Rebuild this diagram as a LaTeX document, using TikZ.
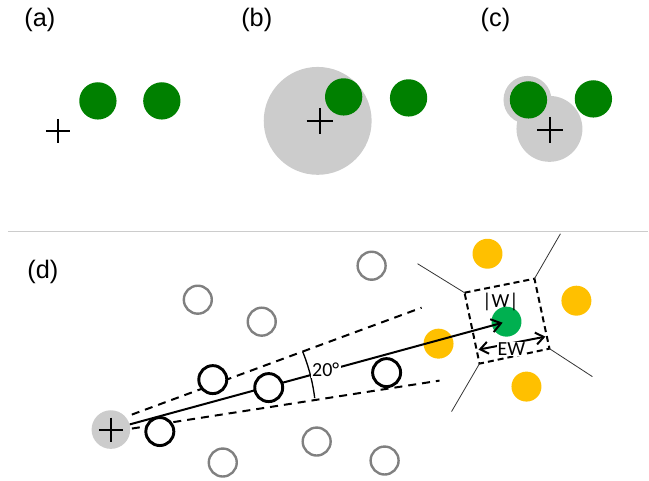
\documentclass[tikz,border=0pt]{standalone}
\usepackage{fontspec}
\setmainfont{Liberation Sans}
\newfontfamily\calfont{Carlito}
\usetikzlibrary{arrows.meta}
\definecolor{darkgreen}{RGB}{0,128,0}
\definecolor{brightgreen}{RGB}{0,176,80}
\definecolor{amber}{RGB}{255,192,0}
\definecolor{lightgrey}{RGB}{204,204,204}
\definecolor{midgrey}{RGB}{128,128,128}
\tikzset{
  panellabel/.style={anchor=center,inner sep=0.75pt,font=\fontsize{19}{22}\selectfont},
  greendot/.style={circle,fill=darkgreen,inner sep=0pt,minimum size=28pt},
  halo/.style={circle,fill=lightgrey,inner sep=0pt},
  plusline/.style={line width=1.5pt},
  hitcircle/.style={circle,draw=black,line width=2.2pt,fill=white,inner sep=0pt,minimum size=21pt},
  misscircle/.style={circle,draw=midgrey,line width=1.8pt,inner sep=0pt,minimum size=21pt},
  neighbour/.style={circle,fill=amber,inner sep=0pt,minimum size=22.5pt},
  smalltext/.style={inner sep=1pt,font=\calfont\fontsize{15}{17}\selectfont},
}
\begin{document}
\begin{tikzpicture}[x=0.75pt,y=0.75pt,yscale=-1,xscale=1]
\path (0,0) rectangle (649,481);
%Panel labels
\node [panellabel] (lbla) at (40,20) {(a)};
\node [panellabel] (lblb) at (257,20) {(b)};
\node [panellabel] (lblc) at (496,20) {(c)};
\node [panellabel] (lbld) at (43,272) {(d)};
%Panel (a)
\node [greendot] (ga1) at (98,101) {};
\node [greendot] (ga2) at (162,101) {};
\draw [plusline] (46,131) -- (70,131) (58,119) -- (58,143);
%Panel (b)
\node [halo,minimum size=81pt] (hb) at (318,121) {};
\node [greendot] (gb1) at (344,97) {};
\node [greendot] (gb2) at (409,98) {};
\draw [plusline] (307,121) -- (333,121) (320,108) -- (320,134);
%Panel (c)
\node [halo,minimum size=36pt] (hc1) at (528,100) {};
\node [halo,minimum size=49.5pt] (hc2) at (550,129) {};
\node [greendot] (gc1) at (529,100) {};
\node [greendot] (gc2) at (594,99) {};
\draw [plusline] (538,130) -- (564,130) (551,117) -- (551,143);
%Separator
\draw [color=lightgrey,line width=1pt] (8,232) -- (649,232);
%Panel (d): candidate circles
\node [misscircle] (m1) at (198,300) {};
\node [misscircle] (m2) at (262,322) {};
\node [misscircle] (m3) at (372,266) {};
\node [misscircle] (m4) at (223,463) {};
\node [misscircle] (m5) at (317,442) {};
\node [misscircle] (m6) at (385,461) {};
\node [neighbour] (y1) at (488,254) {};
\node [neighbour] (y2) at (577,301) {};
\node [neighbour] (y3) at (439,344) {};
\node [neighbour] (y4) at (527,387) {};
\node [circle,fill=brightgreen,inner sep=0pt,minimum size=22.5pt] (tgt) at (507,322) {};
\node [halo,minimum size=29pt] (src) at (111,430) {};
\draw [plusline] (99,430) -- (123,430) (111,418) -- (111,442);
%Cone
\coordinate (upA) at (132,415);
\coordinate (upB) at (422,308);
\coordinate (loA) at (132,429);
\coordinate (loB) at (440,381);
\draw [line width=1.5pt,dash pattern={on 6pt off 4.5pt}] (upA) -- (upB);
\draw [line width=1.5pt,dash pattern={on 6pt off 4.5pt}] (loA) -- (loB);
\draw [line width=1.5pt,-{Straight Barb[length=7pt,width=10pt]},shorten >=3pt] (src) -- (tgt.center);
\draw [line width=1pt] (303,352) arc[start angle=-22,end angle=-7,radius=184];
\node [smalltext,fill=white] (ang) at (326,370) {20°};
%Hit circles
\node [hitcircle] (h1) at (160,432) {};
\node [hitcircle] (h2) at (213,380) {};
\node [hitcircle] (h3) at (269,388) {};
\node [hitcircle] (h4) at (387,373) {};
%Cell box
\coordinate (cA) at (465,293);
\coordinate (cB) at (535,279);
\coordinate (cC) at (550,349);
\coordinate (cD) at (480,364);
\draw [line width=1.5pt,dash pattern={on 4.5pt off 3pt}] (cA) -- (cB) -- (cC) -- (cD) -- cycle;
\coordinate (eA) at (418,264);
\coordinate (eB) at (561,234);
\coordinate (eC) at (593,377);
\coordinate (eD) at (452,412);
\draw [line width=0.6pt,color=black!80] (cA) -- (eA) (cB) -- (eB) (cC) -- (eC) (cD) -- (eD);
\node [smalltext] (wlbl) at (501,302) {|W|};
\coordinate (ewL) at (479,350);
\coordinate (ewR) at (546,337);
\draw [line width=1.5pt,{Straight Barb[length=6pt,width=9pt]}-{Straight Barb[length=6pt,width=9pt]}] (ewL) -- (ewR);
\node [smalltext,fill=white,inner sep=0.5pt] (ewlbl) at (512,349) {EW};
\end{tikzpicture}
\end{document}
